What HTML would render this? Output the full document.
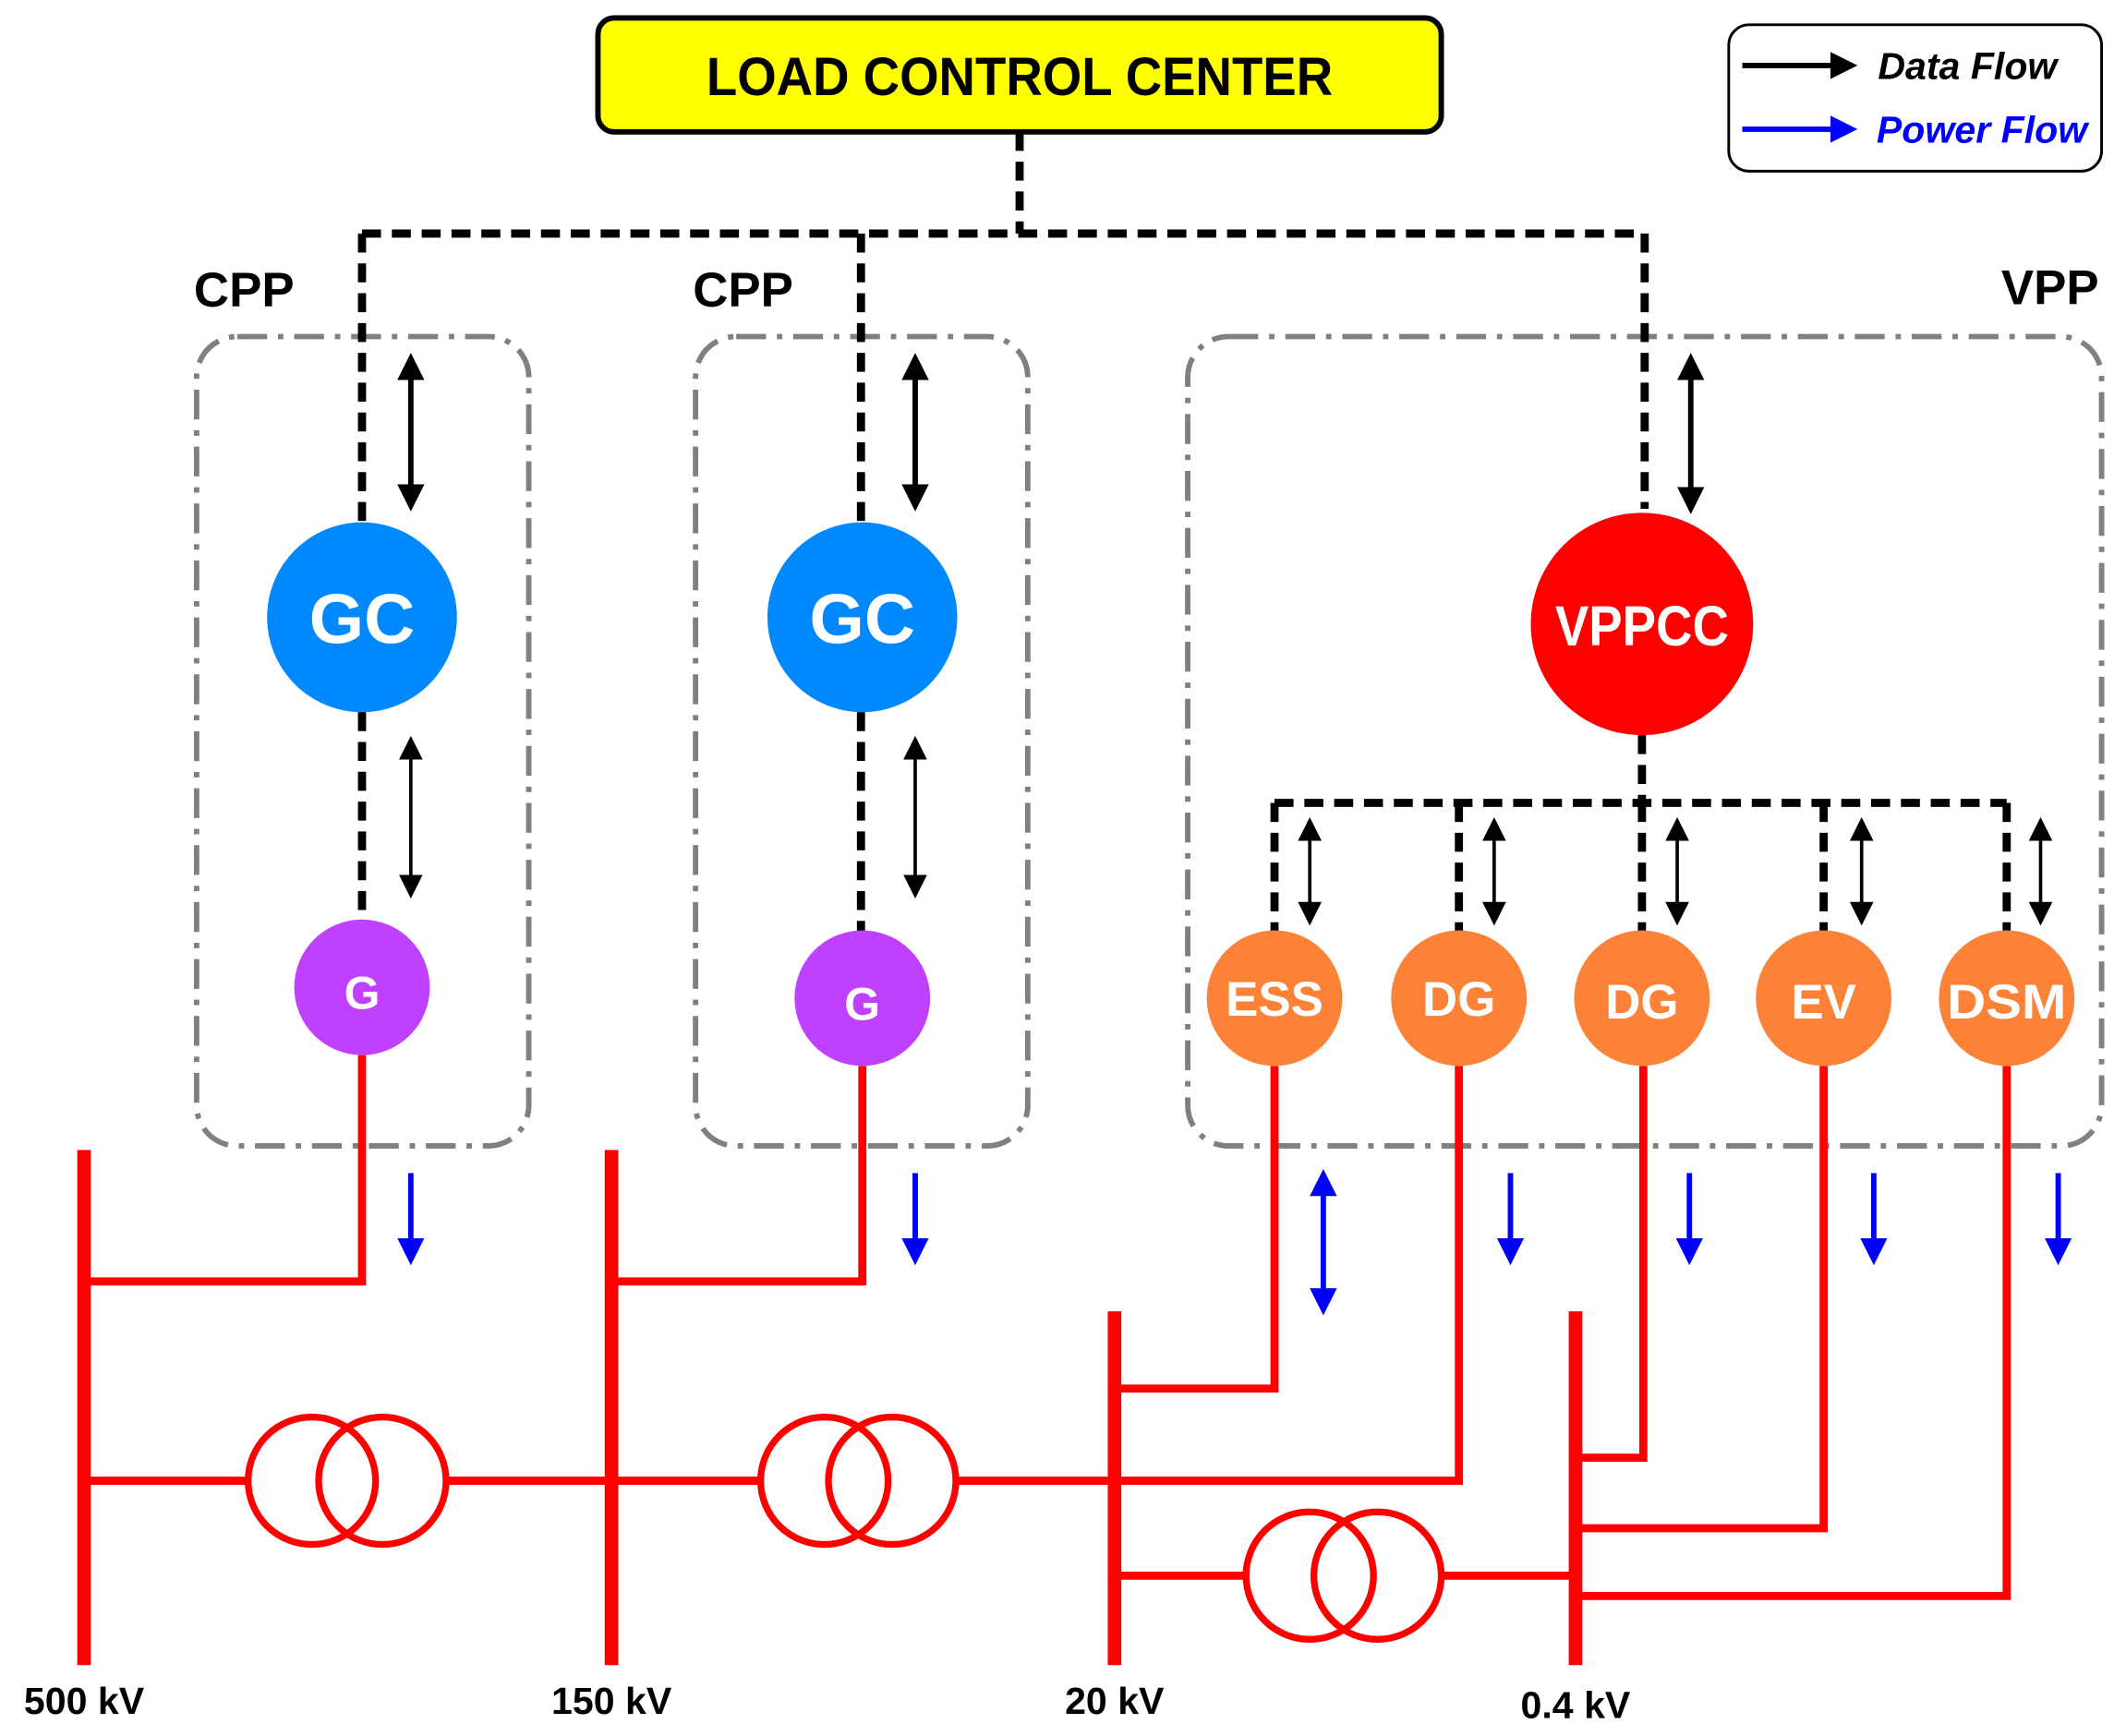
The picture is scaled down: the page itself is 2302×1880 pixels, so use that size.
<!DOCTYPE html>
<html><head><meta charset="utf-8"><style>
html,body{margin:0;padding:0;background:#fff;}
svg{display:block;}
text{font-family:"Liberation Sans",sans-serif;font-weight:bold;}
</style></head><body>
<svg width="2302" height="1880" viewBox="0 0 1568 1280" xmlns="http://www.w3.org/2000/svg">
<defs>
<marker id="ak" viewBox="0 0 10 10" refX="8" refY="5" markerWidth="5" markerHeight="5" orient="auto-start-reverse"><path d="M0,0 L10,5 L0,10 z" fill="#000"/></marker>
<marker id="ab" viewBox="0 0 10 10" refX="8" refY="5" markerWidth="5" markerHeight="5" orient="auto-start-reverse"><path d="M0,0 L10,5 L0,10 z" fill="#0000ff"/></marker>
<marker id="aks" viewBox="0 0 10 10" refX="8" refY="5" markerWidth="7" markerHeight="7" orient="auto-start-reverse"><path d="M0,0 L10,5 L0,10 z" fill="#000"/></marker>
</defs>

<g fill="none" stroke="#808080" stroke-width="4" stroke-dasharray="22 8 4 8">
<rect x="145" y="248" width="245" height="597" rx="30"/>
<rect x="513" y="248" width="245" height="597" rx="30"/>
<rect x="876" y="248" width="674" height="597" rx="30"/>
</g>

<g fill="none" stroke="#000" stroke-width="6" stroke-dasharray="14 8">
<path d="M752,97 V172"/>
<path d="M267,172 H1213"/>
<path d="M267,172 V385"/>
<path d="M635,172 V385"/>
<path d="M1213,172 V375"/>
<path d="M267,525 V678"/>
<path d="M635,525 V688"/>
<path d="M1211,542 V592"/>
<path d="M940,592 H1480"/>
<path d="M940,592 V688"/>
<path d="M1076,592 V688"/>
<path d="M1211,592 V688"/>
<path d="M1345,592 V688"/>
<path d="M1480,592 V688"/>
</g>

<rect x="441" y="13" width="622" height="84" rx="12" fill="#ffff00" stroke="#000" stroke-width="4"/>
<text x="752" y="70" font-size="40" text-anchor="middle" textLength="462" lengthAdjust="spacingAndGlyphs">LOAD CONTROL CENTER</text>

<rect x="1275" y="18" width="275" height="108" rx="15" fill="#fff" stroke="#000" stroke-width="2"/>
<line x1="1285" y1="48" x2="1366" y2="48" stroke="#000" stroke-width="4" marker-end="url(#ak)"/>
<text x="1385" y="58" font-size="28" font-style="italic">Data Flow</text>
<line x1="1285" y1="95" x2="1366" y2="95" stroke="#0000ff" stroke-width="4" marker-end="url(#ab)"/>
<text x="1384" y="105" font-size="28" font-style="italic" fill="#0000ff">Power Flow</text>

<text x="180" y="226" font-size="36" text-anchor="middle">CPP</text>
<text x="548" y="226" font-size="36" text-anchor="middle">CPP</text>
<text x="1512" y="224" font-size="36" text-anchor="middle">VPP</text>

<g stroke="#000" fill="none">
<line x1="303" y1="264" x2="303" y2="373" stroke-width="4" marker-start="url(#ak)" marker-end="url(#ak)"/>
<line x1="675" y1="264" x2="675" y2="373" stroke-width="4" marker-start="url(#ak)" marker-end="url(#ak)"/>
<line x1="1247" y1="264" x2="1247" y2="375" stroke-width="4" marker-start="url(#ak)" marker-end="url(#ak)"/>
<line x1="303" y1="546" x2="303" y2="659" stroke-width="2.5" marker-start="url(#aks)" marker-end="url(#aks)"/>
<line x1="675" y1="546" x2="675" y2="659" stroke-width="2.5" marker-start="url(#aks)" marker-end="url(#aks)"/>
<line x1="966" y1="606" x2="966" y2="679" stroke-width="2.5" marker-start="url(#aks)" marker-end="url(#aks)"/>
<line x1="1102" y1="606" x2="1102" y2="679" stroke-width="2.5" marker-start="url(#aks)" marker-end="url(#aks)"/>
<line x1="1237" y1="606" x2="1237" y2="679" stroke-width="2.5" marker-start="url(#aks)" marker-end="url(#aks)"/>
<line x1="1373" y1="606" x2="1373" y2="679" stroke-width="2.5" marker-start="url(#aks)" marker-end="url(#aks)"/>
<line x1="1505" y1="606" x2="1505" y2="679" stroke-width="2.5" marker-start="url(#aks)" marker-end="url(#aks)"/>
</g>

<g stroke="#0000ff" stroke-width="4" fill="none">
<line x1="303" y1="865" x2="303" y2="929" marker-end="url(#ab)"/>
<line x1="675" y1="865" x2="675" y2="929" marker-end="url(#ab)"/>
<line x1="1114" y1="865" x2="1114" y2="929" marker-end="url(#ab)"/>
<line x1="1246" y1="865" x2="1246" y2="929" marker-end="url(#ab)"/>
<line x1="1382" y1="865" x2="1382" y2="929" marker-end="url(#ab)"/>
<line x1="1518" y1="865" x2="1518" y2="929" marker-end="url(#ab)"/>
<line x1="976" y1="866" x2="976" y2="966" marker-start="url(#ab)" marker-end="url(#ab)"/>
</g>

<g stroke="#ff0000" fill="none">
<g stroke-width="10">
<line x1="62" y1="848" x2="62" y2="1228"/>
<line x1="451" y1="848" x2="451" y2="1228"/>
<line x1="822" y1="967" x2="822" y2="1228"/>
<line x1="1162" y1="967" x2="1162" y2="1228"/>
</g>
<g stroke-width="6">
<path d="M267,778 V945 H62"/>
<path d="M636,786 V945 H451"/>
<path d="M62,1092 H183"/>
<path d="M329,1092 H451"/>
<path d="M451,1092 H561"/>
<path d="M705,1092 H822"/>
<path d="M822,1162 H919"/>
<path d="M1063,1162 H1162"/>
<path d="M940,786 V1024 H822"/>
<path d="M1076,786 V1092 H822"/>
<path d="M1212,786 V1075 H1162"/>
<path d="M1345,786 V1127 H1162"/>
<path d="M1480,786 V1177 H1162"/>
<circle cx="230" cy="1092" r="47" stroke-width="5"/>
<circle cx="282" cy="1092" r="47" stroke-width="5"/>
<circle cx="608" cy="1092" r="47" stroke-width="5"/>
<circle cx="658" cy="1092" r="47" stroke-width="5"/>
<circle cx="966" cy="1162" r="47" stroke-width="5"/>
<circle cx="1016" cy="1162" r="47" stroke-width="5"/>
</g>
</g>

<circle cx="267" cy="455" r="70" fill="#0088ff"/>
<circle cx="636" cy="455" r="70" fill="#0088ff"/>
<text x="267" y="474" font-size="52" fill="#fff" text-anchor="middle">GC</text>
<text x="636" y="474" font-size="52" fill="#fff" text-anchor="middle">GC</text>
<circle cx="267" cy="728" r="50" fill="#bf40ff"/>
<circle cx="636" cy="736" r="50" fill="#bf40ff"/>
<text x="267" y="744" font-size="34" fill="#fff" text-anchor="middle">G</text>
<text x="636" y="752" font-size="34" fill="#fff" text-anchor="middle">G</text>
<circle cx="1211" cy="460" r="82" fill="#ff0000"/>
<text x="1211" y="476" font-size="42" fill="#fff" text-anchor="middle" textLength="128" lengthAdjust="spacingAndGlyphs">VPPCC</text>
<g fill="#fb8236">
<circle cx="940" cy="736" r="50"/>
<circle cx="1076" cy="736" r="50"/>
<circle cx="1211" cy="736" r="50"/>
<circle cx="1345" cy="736" r="50"/>
<circle cx="1480" cy="736" r="50"/>
</g>
<g fill="#fff" font-size="36" text-anchor="middle">
<text x="940" y="749">ESS</text>
<text x="1076" y="749">DG</text>
<text x="1211" y="751">DG</text>
<text x="1345" y="751">EV</text>
<text x="1480" y="751" textLength="88" lengthAdjust="spacingAndGlyphs">DSM</text>
</g>

<g font-size="28" text-anchor="middle">
<text x="62" y="1264">500 kV</text>
<text x="451" y="1264">150 kV</text>
<text x="822" y="1264">20 kV</text>
<text x="1162" y="1267">0.4 kV</text>
</g>
</svg>
</body></html>
